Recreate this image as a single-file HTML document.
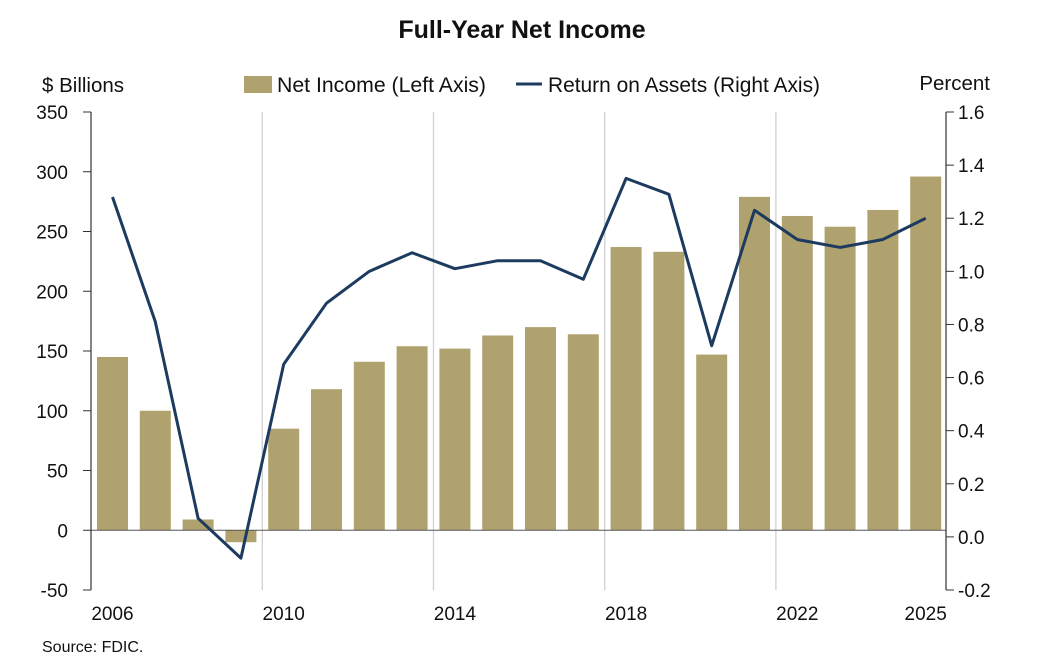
<!DOCTYPE html>
<html><head><meta charset="utf-8"><style>
body{margin:0;background:#fff;}
svg text{font-family:"Liberation Sans",sans-serif;fill:#111;}
</style></head><body>
<svg id="c" width="1062" height="660" xmlns="http://www.w3.org/2000/svg">
<text x="522" y="38" text-anchor="middle" font-size="25" font-weight="bold">Full-Year Net Income</text>
<text x="42" y="92" font-size="20.5">$ Billions</text>
<text x="990" y="90" font-size="20.5" text-anchor="end">Percent</text>
<rect x="244" y="76" width="28" height="17" fill="#b0a26e"/>
<text x="277" y="92" font-size="21" textLength="209" lengthAdjust="spacingAndGlyphs">Net Income (Left Axis)</text>
<line x1="516" y1="84" x2="542" y2="84" stroke="#1d3a5f" stroke-width="3"/>
<text x="548" y="92" font-size="21" textLength="272" lengthAdjust="spacingAndGlyphs">Return on Assets (Right Axis)</text>
<text x="42" y="652" font-size="16">Source: FDIC.</text>
<g id="g"></g>
</svg>
<script>
const ni=[145,100,9,-10,85,118,141,154,152,163,170,164,237,233,147,279,263,254,268,296];
const roa=[1.28,0.81,0.07,-0.08,0.65,0.88,1.00,1.07,1.01,1.04,1.04,0.97,1.35,1.29,0.72,1.23,1.12,1.09,1.12,1.20];
const L=91,R=946,T=112,B=590;
const yl=v=>T+(350-v)*(B-T)/400, yr=v=>T+(1.6-v)*(B-T)/1.8;
const cx=i=>112.5+i*42.8;
let s='';
[3.5,7.5,11.5,15.5].forEach(k=>{const x=cx(k);s+=`<line x1="${x}" y1="${T}" x2="${x}" y2="${B}" stroke="#d0d0d0" stroke-width="1.3"/>`;});
ni.forEach((v,i)=>{const y0=yl(0),y=yl(v);s+=`<rect x="${cx(i)-15.5}" y="${Math.min(y,y0)}" width="31" height="${Math.abs(y-y0)}" fill="#b0a26e"/>`;});
s+=`<line x1="${L}" y1="${yl(0)}" x2="${R}" y2="${yl(0)}" stroke="#555" stroke-width="1"/>`;
s+=`<line x1="${L}" y1="${T}" x2="${L}" y2="${B}" stroke="#333" stroke-width="1.2"/>`;
s+=`<line x1="${R}" y1="${T}" x2="${R}" y2="${B}" stroke="#333" stroke-width="1.2"/>`;
for(let v=-50;v<=350;v+=50){const y=yl(v);s+=`<line x1="${L-8}" y1="${y}" x2="${L}" y2="${y}" stroke="#333"/><text x="68" y="${y+7}" font-size="19" text-anchor="end">${v}</text>`;}
for(let k=-1;k<=8;k++){const v=k*0.2,y=yr(v);s+=`<line x1="${R}" y1="${y}" x2="${R+8}" y2="${y}" stroke="#333"/><text x="958" y="${y+7}" font-size="19">${v.toFixed(1)}</text>`;}
[[0,'2006'],[4,'2010'],[8,'2014'],[12,'2018'],[16,'2022'],[19,'2025']].forEach(([i,t])=>{s+=`<text x="${cx(i)}" y="620" font-size="19" text-anchor="middle">${t}</text>`;});
s+=`<polyline fill="none" stroke="#1d3a5f" stroke-width="3" stroke-linejoin="round" points="${roa.map((v,i)=>cx(i)+','+yr(v)).join(' ')}"/>`;
document.getElementById('g').innerHTML=s;
</script>
</body></html>
